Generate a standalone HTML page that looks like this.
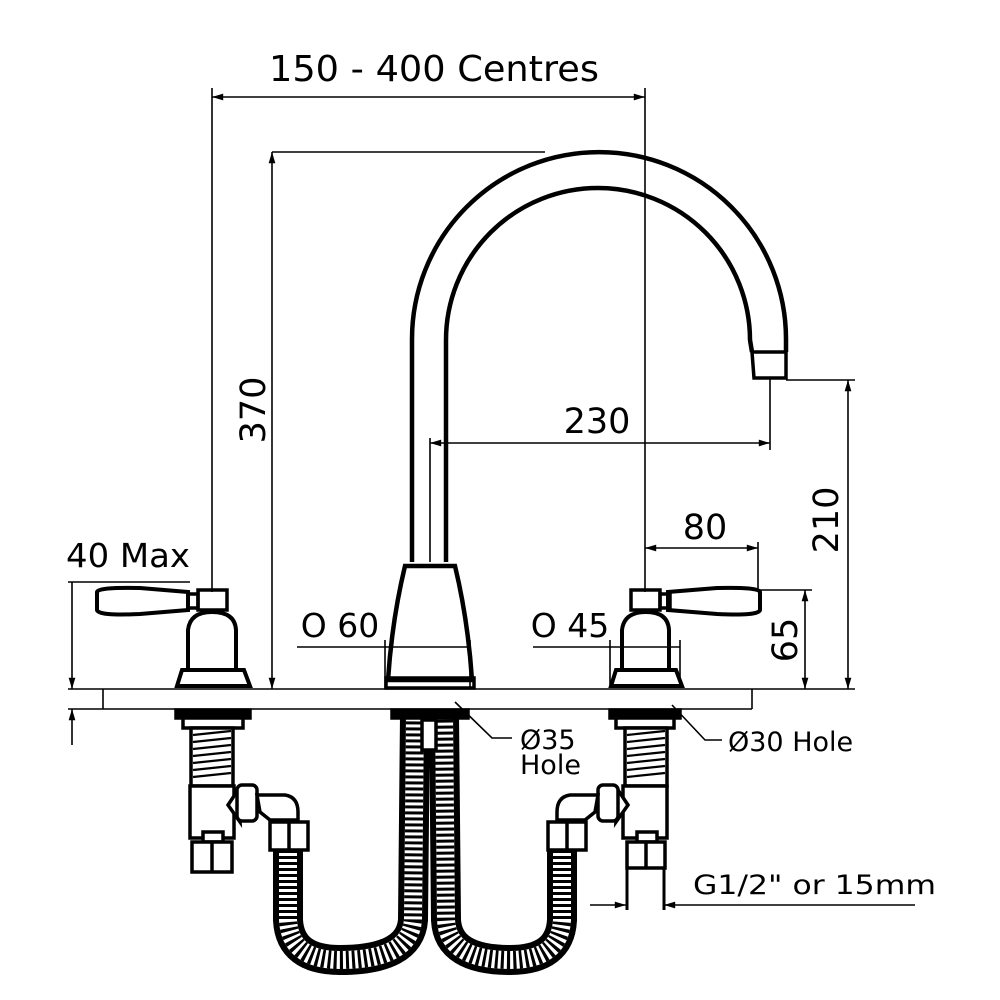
<!DOCTYPE html>
<html><head><meta charset="utf-8"><style>
html,body{margin:0;padding:0;background:#fff}
svg{display:block}
text{font-family:"DejaVu Sans","Liberation Sans",sans-serif;fill:#000}
</style></head><body>
<svg width="1000" height="1000" viewBox="0 0 1000 1000" xmlns="http://www.w3.org/2000/svg">
<defs>
<marker id="a" viewBox="0 0 10 10" refX="10" refY="5" markerWidth="9" markerHeight="7" orient="auto-start-reverse"><path d="M0,2 L10,5 L0,8 z" fill="#000"/></marker>
</defs>
<g fill="none" stroke="#000" stroke-width="1.6">
<line x1="212" y1="97" x2="645" y2="97" marker-start="url(#a)" marker-end="url(#a)"/>
<line x1="212" y1="88" x2="212" y2="592"/>
<line x1="645" y1="88" x2="645" y2="592"/>
<line x1="272" y1="152" x2="545" y2="152"/>
<line x1="272" y1="152" x2="272" y2="689" marker-start="url(#a)" marker-end="url(#a)"/>
<line x1="430" y1="443" x2="770" y2="443" marker-start="url(#a)" marker-end="url(#a)"/>
<line x1="430" y1="438" x2="430" y2="562"/>
<line x1="770" y1="378" x2="770" y2="450"/>
<line x1="786" y1="380" x2="855" y2="380"/>
<line x1="848" y1="380" x2="848" y2="689" marker-start="url(#a)" marker-end="url(#a)"/>
<line x1="645" y1="548" x2="758" y2="548" marker-start="url(#a)" marker-end="url(#a)"/>
<line x1="758" y1="542" x2="758" y2="590"/>
<line x1="760" y1="590" x2="812" y2="590"/>
<line x1="805" y1="590" x2="805" y2="689" marker-start="url(#a)" marker-end="url(#a)"/>
<line x1="68" y1="582" x2="190" y2="582"/>
<line x1="72" y1="582" x2="72" y2="689" marker-end="url(#a)"/>
<line x1="72" y1="745" x2="72" y2="709" marker-end="url(#a)"/>
<line x1="68" y1="689" x2="855" y2="689"/>
<line x1="68" y1="709" x2="752" y2="709"/>
<line x1="103" y1="689" x2="103" y2="709"/>
<line x1="752" y1="689" x2="752" y2="709"/>
<line x1="297" y1="647" x2="470" y2="647"/>
<line x1="385" y1="640" x2="385" y2="688"/><line x1="470" y1="640" x2="470" y2="688"/>
<line x1="533" y1="647" x2="680" y2="647"/>
<line x1="610" y1="640" x2="610" y2="688"/><line x1="680" y1="640" x2="680" y2="688"/>
<polyline points="455,702 492,738 512,738"/>
<polyline points="672,705 705,740 722,740"/>
<line x1="590" y1="905" x2="626" y2="905" marker-end="url(#a)"/>
<line x1="915" y1="905" x2="664" y2="905" marker-end="url(#a)"/>
</g>
<g fill="none" stroke="#000" stroke-width="4.5">
<path d="M412,562 L412,339 A187,187 0 0 1 786,339 L786,352"/>
<path d="M446,562 L446,340 A152,152 0 0 1 750,340 L752,352"/>
<path d="M752,352 L786,352 L786,378 L754,378 Z" stroke-width="3.5"/>
<path d="M405,566 L455,566 Q468,620 472,680 L388,680 Q392,620 405,566 Z"/>
<rect x="386" y="678" width="88" height="10" stroke-width="3.5"/>
<path d="M97,592 Q98,587 140,588 L188,592 L188,610 L140,614 Q98,616 97,610 Z" stroke-width="4"/>
<rect x="188" y="594" width="10" height="14" stroke-width="3.5"/>
<rect x="198" y="590" width="29" height="20" stroke-width="3.5"/>
<path d="M188,670 L188,630 Q190,612 212,612 Q235,612 236,630 L236,670" stroke-width="4"/>
<path d="M177,686 L182,670 L244,670 L250,686 Z" stroke-width="4"/>
<path d="M760,592 Q759,587 717,588 L668,592 L668,610 L717,614 Q759,616 760,610 Z" stroke-width="4"/>
<rect x="660" y="594" width="10" height="14" stroke-width="3.5"/>
<rect x="631" y="590" width="29" height="20" stroke-width="3.5"/>
<path d="M622,670 L622,630 Q624,612 646,612 Q668,612 669,630 L669,670" stroke-width="4"/>
<path d="M611,686 L616,670 L676,670 L682,686 Z" stroke-width="4"/>
</g>
<g fill="none" stroke-linecap="butt">
<path d="M288,850 L288,920 Q290,960 340,960 Q410,960 413,920 L415,715" stroke="#000" stroke-width="30"/>
<path d="M288,850 L288,920 Q290,960 340,960 Q410,960 413,920 L415,715" stroke="#fff" stroke-width="18"/>
<path d="M288,850 L288,920 Q290,960 340,960 Q410,960 413,920 L415,715" stroke="#000" stroke-width="18" stroke-dasharray="3 3"/>
<path d="M562,850 L562,920 Q560,960 510,960 Q448,960 446,920 L444,715" stroke="#000" stroke-width="30"/>
<path d="M562,850 L562,920 Q560,960 510,960 Q448,960 446,920 L444,715" stroke="#fff" stroke-width="18"/>
<path d="M562,850 L562,920 Q560,960 510,960 Q448,960 446,920 L444,715" stroke="#000" stroke-width="18" stroke-dasharray="3 3"/>
</g>
<g fill="#fff" stroke="#000" stroke-width="3.5">
<rect x="392" y="710" width="76" height="8" fill="#000"/>
<rect x="422" y="720" width="14" height="30"/>
<rect x="176" y="710" width="74" height="8" fill="#000"/>
<rect x="183" y="718" width="60" height="10"/>
<rect x="191" y="728" width="42" height="58"/>
<g stroke-width="2.2"><line x1="193" y1="735" x2="231" y2="731"/><line x1="193" y1="742" x2="231" y2="738"/><line x1="193" y1="749" x2="231" y2="745"/><line x1="193" y1="756" x2="231" y2="752"/><line x1="193" y1="763" x2="231" y2="759"/><line x1="193" y1="770" x2="231" y2="766"/><line x1="193" y1="777" x2="231" y2="773"/></g>
<rect x="190" y="786" width="44" height="52"/>
<rect x="203" y="832" width="20" height="10"/>
<rect x="192" y="842" width="40" height="30"/>
<line x1="212" y1="842" x2="212" y2="872"/>
<path d="M228,805 L238,790 L240,822 Z"/>
<rect x="237" y="785" width="20" height="36" rx="5"/>
<path d="M257,795 L285,795 Q298,797 298,812 L298,820 L270,820 L260,812 Z"/>
<rect x="270" y="822" width="38" height="28"/>
<line x1="289" y1="822" x2="289" y2="850"/>
<rect x="610" y="710" width="70" height="8" fill="#000"/>
<rect x="616" y="718" width="58" height="10"/>
<rect x="625" y="728" width="42" height="58"/>
<g stroke-width="2.2"><line x1="627" y1="735" x2="665" y2="731"/><line x1="627" y1="742" x2="665" y2="738"/><line x1="627" y1="749" x2="665" y2="745"/><line x1="627" y1="756" x2="665" y2="752"/><line x1="627" y1="763" x2="665" y2="759"/><line x1="627" y1="770" x2="665" y2="766"/><line x1="627" y1="777" x2="665" y2="773"/></g>
<rect x="623" y="786" width="44" height="52"/>
<rect x="637" y="832" width="20" height="10"/>
<rect x="627" y="842" width="38" height="26"/>
<line x1="646" y1="842" x2="646" y2="868"/>
<path d="M627,868 L627,910 M664,868 L664,910" fill="none" stroke-width="3"/>
<path d="M628,805 L618,790 L616,822 Z"/>
<rect x="598" y="785" width="20" height="36" rx="5"/>
<path d="M598,795 L570,795 Q557,797 557,812 L557,820 L585,820 L595,812 Z"/>
<rect x="548" y="822" width="38" height="28"/>
<line x1="567" y1="822" x2="567" y2="850"/>
</g>
<text x="434" y="81" font-size="36" text-anchor="middle" textLength="330" lengthAdjust="spacingAndGlyphs">150 - 400 Centres</text>
<text transform="translate(265,410) rotate(-90)" font-size="35" text-anchor="middle">370</text>
<text x="597" y="433" font-size="35" text-anchor="middle">230</text>
<text transform="translate(838,520) rotate(-90)" font-size="35" text-anchor="middle">210</text>
<text x="705" y="539" font-size="35" text-anchor="middle">80</text>
<text transform="translate(797,640) rotate(-90)" font-size="35" text-anchor="middle">65</text>
<text x="128" y="567" font-size="33" text-anchor="middle" textLength="124" lengthAdjust="spacingAndGlyphs">40 Max</text>
<text x="340" y="637" font-size="33" text-anchor="middle">O 60</text>
<text x="570" y="637" font-size="33" text-anchor="middle">O 45</text>
<text x="520" y="749" font-size="27">Ø35</text>
<text x="520" y="774" font-size="27">Hole</text>
<text x="728" y="751" font-size="27">Ø30 Hole</text>
<text x="693" y="894" font-size="27" textLength="243" lengthAdjust="spacingAndGlyphs">G1/2" or 15mm</text>
</svg>
</body></html>
